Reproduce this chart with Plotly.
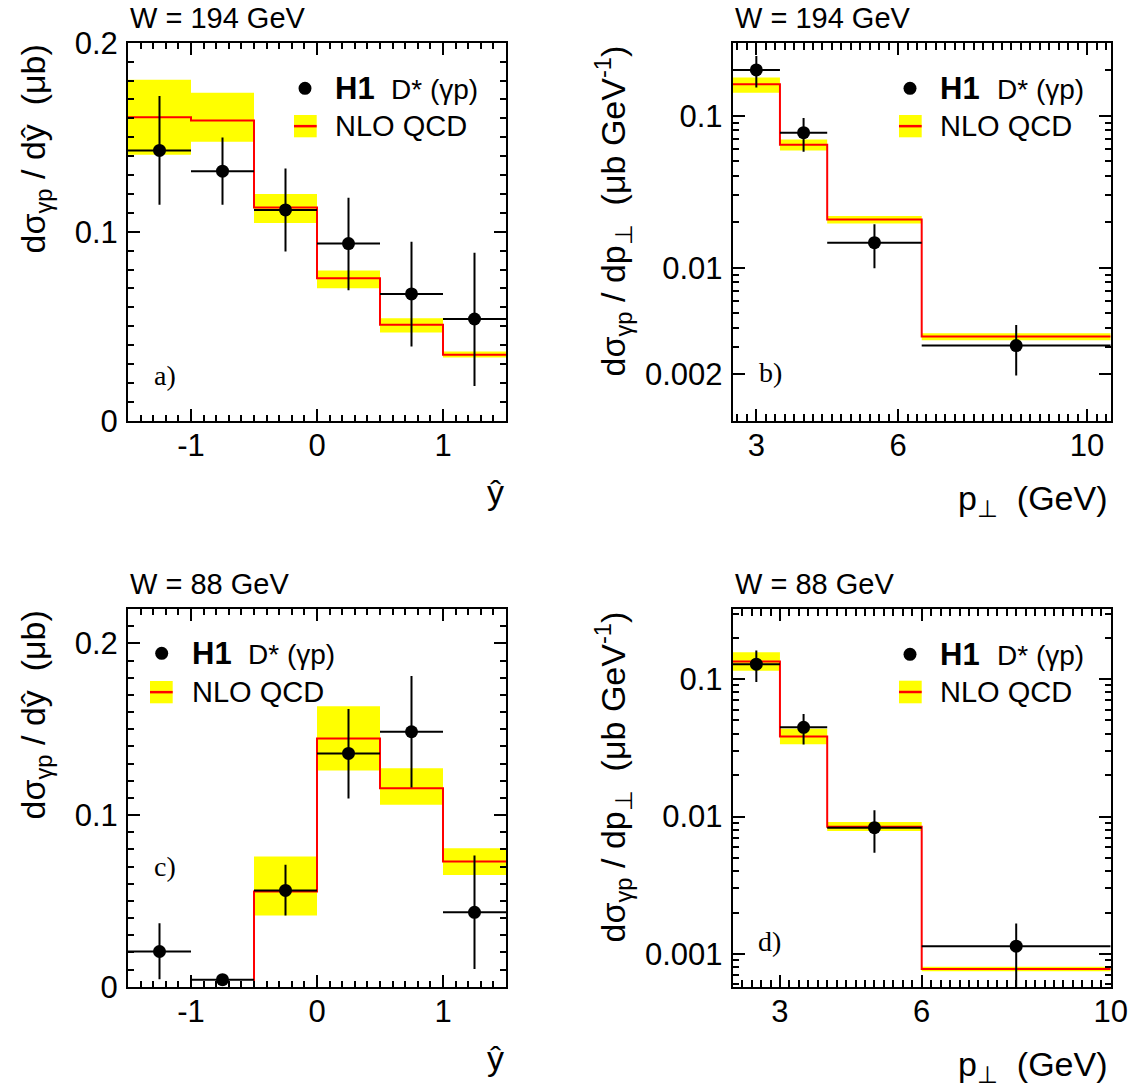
import plotly.graph_objects as go

W_PX, H_PX = 1136, 1089

# ---------------- data ----------------
# panel a : W = 194 GeV, d sigma / d y-hat
yhat_edges = [-1.5, -1.0, -0.5, 0.0, 0.5, 1.0, 1.5]
a_data = [0.143, 0.132, 0.1115, 0.0937, 0.0671, 0.0538]
a_err_up = [0.0288, 0.0178, 0.022, 0.0243, 0.0276, 0.0351]
a_err_dn = [0.0288, 0.0178, 0.022, 0.0247, 0.0278, 0.0354]
a_nlo = [0.1606, 0.1588, 0.1128, 0.0754, 0.0508, 0.0349]
a_nlo_hi = [0.1804, 0.1735, 0.1200, 0.0795, 0.0542, 0.0366]
a_nlo_lo = [0.1407, 0.1476, 0.1046, 0.0701, 0.0467, 0.0335]

# panel b : W = 194 GeV, d sigma / d pT
b_edges = [2.5, 3.5, 4.5, 6.5, 10.5]
b_data = [0.200, 0.0773, 0.0146, 0.00307]
b_hi = [0.247, 0.0965, 0.0193, 0.0042]
b_lo = [0.153, 0.0579, 0.0099, 0.00195]
b_nlo = [0.161, 0.0644, 0.0207, 0.00352]
b_nlo_hi = [0.178, 0.0698, 0.0219, 0.0037]
b_nlo_lo = [0.1416, 0.0589, 0.0195, 0.00333]

# panel c : W = 88 GeV, d sigma / d y-hat
c_data = [0.0205, 0.0041, 0.0561, 0.1359, 0.1485, 0.0433]
c_err_up = [0.0165, 0.002, 0.0149, 0.0259, 0.0325, 0.0331]
c_err_dn = [0.0162, 0.002, 0.0146, 0.0263, 0.0325, 0.033]
c_nlo = [0.0, 0.0, 0.0554, 0.1446, 0.1156, 0.0729]
c_nlo_hi = [0.0, 0.0, 0.0758, 0.1634, 0.1273, 0.0807]
c_nlo_lo = [0.0, 0.0, 0.0415, 0.1259, 0.1060, 0.0651]

# panel d : W = 88 GeV, d sigma / d pT
d_edges = [2.0, 3.0, 4.0, 6.0, 10.0]
d_data = [0.1285, 0.0446, 0.0083, 0.00114]
d_hi = [0.1615, 0.0558, 0.0111, 0.00167]
d_lo = [0.0951, 0.0334, 0.00546, 0.0005]
d_nlo = [0.1343, 0.0382, 0.00844, 0.000778]
d_nlo_hi = [0.157, 0.0435, 0.00914, 0.000808]
d_nlo_lo = [0.1149, 0.0336, 0.00784, 0.000748]

# tick labels
yhat_ticks = [-1, 0, 1]
yhat_ticktext = ["-1", "0", "1"]
lin_y_ticks = [0, 0.1, 0.2]
lin_y_ticktext = ["0", "0.1", "0.2"]
pt_ticks = [3, 6, 10]
pt_ticktext = ["3", "6", "10"]
b_y_ticks = [0.002, 0.01, 0.1]
b_y_ticktext = ["0.002", "0.01", "0.1"]
d_y_ticks = [0.001, 0.01, 0.1]
d_y_ticktext = ["0.001", "0.01", "0.1"]

W_labels = ["W = 194 GeV", "W = 194 GeV", "W = 88 GeV", "W = 88 GeV"]
panel_labels = ["a)", "b)", "c)", "d)"]

# ---------------- helpers ----------------
def px(p):
    return p / W_PX


def py(p):
    return 1 - p / H_PX


SANS = "Liberation Sans, Arial, Helvetica, sans-serif"
SERIF = "Liberation Serif, Times New Roman, serif"
YELLOW = "#ffff00"
RED = "#ff0000"

fig = go.Figure()


def add_panel(n, edges, data, up, dn, nlo, nlo_hi, nlo_lo):
    xa = "x" if n == 1 else "x%d" % n
    ya = "y" if n == 1 else "y%d" % n
    # band
    bx, by = [], []
    for i in range(len(nlo)):
        if nlo_hi[i] <= 0:
            continue
        lo_e, hi_e = edges[i], edges[i + 1]
        bx += [lo_e, hi_e, hi_e, lo_e, lo_e, None]
        by += [nlo_lo[i], nlo_lo[i], nlo_hi[i], nlo_hi[i], nlo_lo[i], None]
    fig.add_trace(go.Scatter(x=bx, y=by, fill="toself", fillcolor=YELLOW,
                             line=dict(width=0, color=YELLOW), mode="lines",
                             hoverinfo="skip", showlegend=False, xaxis=xa, yaxis=ya))
    # step line (explicit vertices; empty leading bins start from the axis)
    sx, sy = [], []
    started = False
    for i in range(len(nlo)):
        if not started:
            if nlo[i] <= 0:
                continue
            started = True
            sx.append(edges[i])
            sy.append(0 if i > 0 else nlo[i])
        sx += [edges[i], edges[i + 1]]
        sy += [nlo[i], nlo[i]]
    fig.add_trace(go.Scatter(x=sx, y=sy, mode="lines", line=dict(color=RED, width=2),
                             showlegend=False, xaxis=xa, yaxis=ya))
    # data
    centers = [(edges[i] + edges[i + 1]) / 2 for i in range(len(data))]
    halfw = [(edges[i + 1] - edges[i]) / 2 for i in range(len(data))]
    fig.add_trace(go.Scatter(
        x=centers, y=data, mode="markers",
        marker=dict(color="black", size=13, symbol="circle"),
        error_x=dict(type="data", array=halfw, symmetric=True, color="black", thickness=2, width=0),
        error_y=dict(type="data", array=up, arrayminus=dn, symmetric=False, color="black",
                     thickness=2, width=0),
        showlegend=False, xaxis=xa, yaxis=ya))


add_panel(1, yhat_edges, a_data, a_err_up, a_err_dn, a_nlo, a_nlo_hi, a_nlo_lo)
add_panel(2, b_edges, b_data,
          [h - v for h, v in zip(b_hi, b_data)], [v - l for v, l in zip(b_data, b_lo)],
          b_nlo, b_nlo_hi, b_nlo_lo)
add_panel(3, yhat_edges, c_data, c_err_up, c_err_dn, c_nlo, c_nlo_hi, c_nlo_lo)
add_panel(4, d_edges, d_data,
          [h - v for h, v in zip(d_hi, d_data)], [v - l for v, l in zip(d_data, d_lo)],
          d_nlo, d_nlo_hi, d_nlo_lo)

# ---------------- axes ----------------
colA = [px(128), px(506)]
colB = [px(732.7), px(1110.7)]
rowT = [py(420.7), py(42.7)]
rowB = [py(986.7), py(609.0)]

tickfont = dict(family=SANS, size=31, color="black")
common = dict(showline=True, linecolor="black", linewidth=2, mirror="allticks",
              ticks="inside", ticklen=12, tickwidth=1.5, tickcolor="black",
              showgrid=False, zeroline=False, tickfont=tickfont, automargin=False)

X_STANDOFF = -4
Y_STANDOFF = 2


def minor_lin(dt, ln=6):
    return dict(ticks="inside", ticklen=ln, tickwidth=1.5, tickcolor="black",
                tickmode="linear", tick0=0, dtick=dt, showgrid=False)


def log_minor_vals(lo_dec, hi_dec):
    vals = []
    for e in range(lo_dec, hi_dec + 1):
        for m in range(2, 10):
            vals.append(m * 10.0 ** e)
    return vals


def minor_log(vals):
    return dict(ticks="inside", ticklen=6, tickwidth=1.5, tickcolor="black",
                tickmode="array", tickvals=vals, showgrid=False)


xa_yhat = dict(common, range=[-1.5, 1.5], tickmode="array", tickvals=yhat_ticks,
               ticktext=yhat_ticktext, minor=minor_lin(0.1), ticklabelstandoff=X_STANDOFF)
fig.update_layout(
    xaxis=dict(xa_yhat, domain=colA, anchor="y"),
    yaxis=dict(common, domain=rowT, anchor="x", range=[0, 0.2], tickmode="array",
               tickvals=lin_y_ticks, ticktext=lin_y_ticktext, minor=minor_lin(0.01),
               ticklabelstandoff=Y_STANDOFF),
    xaxis2=dict(common, domain=colB, anchor="y2", range=[2.5, 10.5], tickmode="array",
                tickvals=pt_ticks, ticktext=pt_ticktext, minor=minor_lin(0.2, 7),
                ticklabelstandoff=X_STANDOFF),
    yaxis2=dict(common, domain=rowT, anchor="x2", type="log", range=[-3.007, -0.52],
                tickmode="array", tickvals=b_y_ticks, ticktext=b_y_ticktext,
                minor=minor_log(log_minor_vals(-3, -1)), ticklabelstandoff=Y_STANDOFF),
    xaxis3=dict(xa_yhat, domain=colA, anchor="y3"),
    yaxis3=dict(common, domain=rowB, anchor="x3", range=[0, 0.22], tickmode="array",
                tickvals=lin_y_ticks, ticktext=lin_y_ticktext, minor=minor_lin(0.01),
                ticklabelstandoff=Y_STANDOFF),
    xaxis4=dict(common, domain=colB, anchor="y4", range=[2.0, 10.0], tickmode="array",
                tickvals=pt_ticks, ticktext=pt_ticktext, minor=minor_lin(0.2, 7),
                ticklabelstandoff=X_STANDOFF),
    yaxis4=dict(common, domain=rowB, anchor="x4", type="log", range=[-3.238, -0.49],
                tickmode="array", tickvals=d_y_ticks, ticktext=d_y_ticktext,
                minor=minor_log(log_minor_vals(-4, -1)), ticklabelstandoff=Y_STANDOFF),
)

# ---------------- annotations ----------------
ann = []


def text(x, y, s, size, xanchor="left", yanchor="middle", family=SANS, angle=0):
    ann.append(dict(x=px(x), y=py(y), xref="paper", yref="paper", text=s, showarrow=False,
                    xanchor=xanchor, yanchor=yanchor, textangle=angle,
                    font=dict(family=family, size=size, color="black")))


# W labels
for (x, y), s in zip([(128, 18), (733, 18), (128, 584), (733, 584)], W_labels):
    text(x, y, s, 29)

# panel labels
for (x, y), s in zip([(151.7, 375), (756.7, 373), (151.7, 866.7), (756, 941.7)], panel_labels):
    text(x, y, s, 28, family=SERIF)

# y-axis titles
ytitle_yhat = "dσ<sub>γp</sub> / dŷ\u00a0\u00a0(μb)"
ytitle_pt = "dσ<sub>γp</sub> / dp<sub>⊥</sub>\u00a0\u00a0(μb GeV<sup>-1</sup>)"
text(35, 43, ytitle_yhat, 34, xanchor="center", yanchor="top", angle=-90)
text(612, 43, ytitle_pt, 34, xanchor="center", yanchor="top", angle=-90)
text(35, 609, ytitle_yhat, 34, xanchor="center", yanchor="top", angle=-90)
text(612, 609, ytitle_pt, 34, xanchor="center", yanchor="top", angle=-90)

# x-axis titles
xtitle_yhat = "ŷ"
xtitle_pt = "p<sub>⊥</sub>\u00a0\u00a0(GeV)"
text(506, 492, xtitle_yhat, 34, xanchor="right")
text(1110, 500, xtitle_pt, 34, xanchor="right")
text(506, 1058, xtitle_yhat, 34, xanchor="right")
text(1110, 1066, xtitle_pt, 34, xanchor="right")

# legends
shapes = []
legends = [
    # marker (x,y), H1 x, D* x, row1 y, box x0,x1,y0,y1, row2 y
    ((305, 88.3), 333.3, 389.3, 88.3, (294, 316.7, 115, 137.3), 125.7),
    ((910, 88.3), 938.3, 995, 88.3, (899, 921.7, 115, 137.3), 125.7),
    ((161.7, 653.3), 190, 246, 653.3, (150, 172.7, 681, 703.3), 691.5),
    ((910, 654.3), 938.3, 995, 654.3, (899, 921.7, 680.7, 703.3), 691.7),
]
for (mx, my), hx, dx, r1, (bx0, bx1, by0, by1), r2 in legends:
    rr = 6.5
    shapes.append(dict(type="circle", xref="paper", yref="paper",
                       x0=px(mx - rr), x1=px(mx + rr), y0=py(my + rr), y1=py(my - rr),
                       fillcolor="black", line=dict(width=0)))
    shapes.append(dict(type="rect", xref="paper", yref="paper",
                       x0=px(bx0), x1=px(bx1), y0=py(by1), y1=py(by0),
                       fillcolor=YELLOW, line=dict(width=0)))
    cy = (by0 + by1) / 2
    shapes.append(dict(type="line", xref="paper", yref="paper",
                       x0=px(bx0), x1=px(bx1), y0=py(cy), y1=py(cy),
                       line=dict(color=RED, width=2.5)))
    text(hx, r1, "<b>H1</b>", 31)
    text(dx, r1 + 1, "D* (γp)", 28)
    text(hx, r2, "NLO QCD", 29)

fig.update_layout(
    width=W_PX, height=H_PX, margin=dict(l=0, r=0, t=0, b=0, pad=0, autoexpand=False),
    paper_bgcolor="white", plot_bgcolor="white",
    annotations=ann, shapes=shapes, showlegend=False,
)

fig.write_html("out.html")
